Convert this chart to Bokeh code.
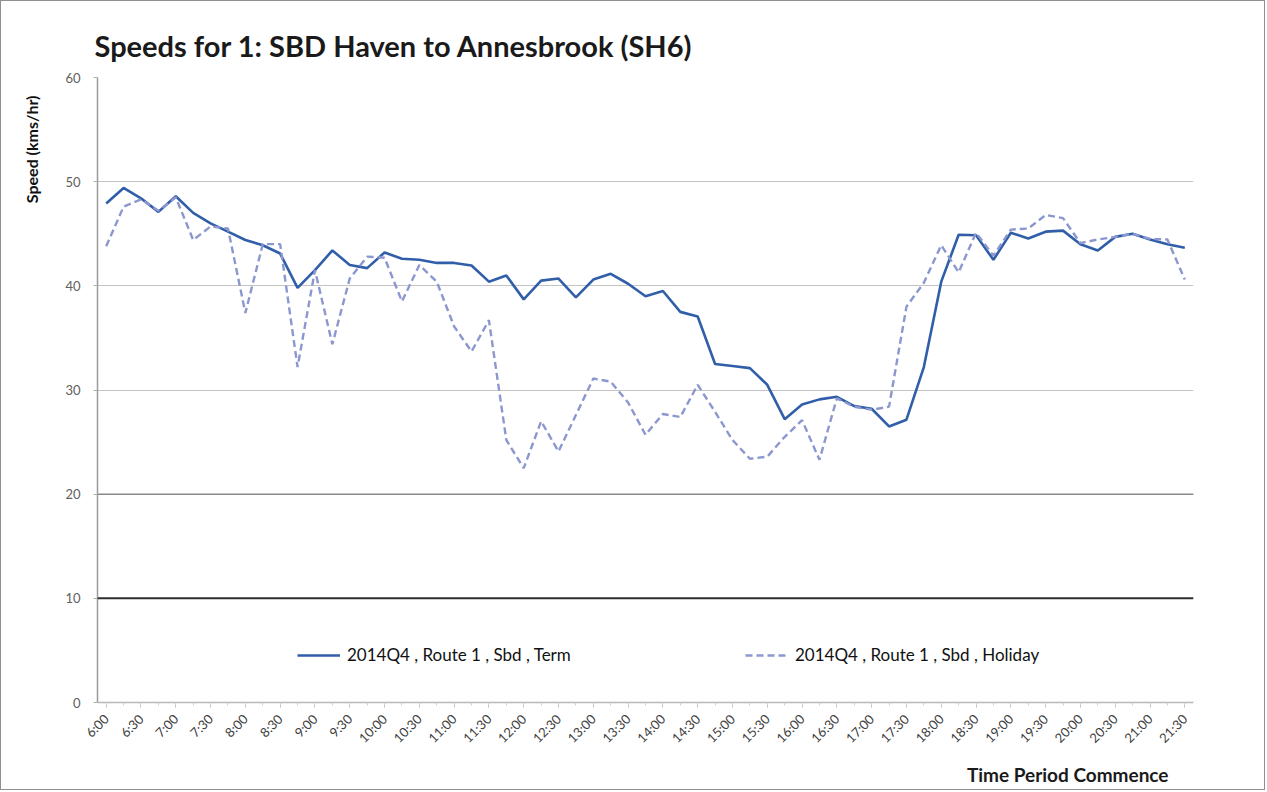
import math
from bokeh.plotting import figure
from bokeh.models import (Range1d, FixedTicker, Legend, LegendItem, Span, Title)
from bokeh.embed import file_html
from bokeh.resources import INLINE

# ---------------- data ----------------
times = ["6:00", "6:15", "6:30", "6:45", "7:00", "7:15", "7:30", "7:45",
         "8:00", "8:15", "8:30", "8:45", "9:00", "9:15", "9:30", "9:45",
         "10:00", "10:15", "10:30", "10:45", "11:00", "11:15", "11:30", "11:45",
         "12:00", "12:15", "12:30", "12:45", "13:00", "13:15", "13:30", "13:45",
         "14:00", "14:15", "14:30", "14:45", "15:00", "15:15", "15:30", "15:45",
         "16:00", "16:15", "16:30", "16:45", "17:00", "17:15", "17:30", "17:45",
         "18:00", "18:15", "18:30", "18:45", "19:00", "19:15", "19:30", "19:45",
         "20:00", "20:15", "20:30", "20:45", "21:00", "21:15", "21:30"]

term = [47.9, 49.4, 48.4, 47.1, 48.6, 47.0, 46.0, 45.2,
        44.4, 43.9, 43.1, 39.8, 41.5, 43.4, 42.0, 41.7,
        43.2, 42.6, 42.5, 42.2, 42.2, 41.95, 40.4, 41.0,
        38.7, 40.5, 40.7, 38.9, 40.6, 41.15, 40.2, 39.0,
        39.5, 37.5, 37.05, 32.5, 32.3, 32.1, 30.5, 27.2,
        28.6, 29.1, 29.35, 28.45, 28.2, 26.5, 27.15, 32.2,
        40.4, 44.9, 44.85, 42.5, 45.1, 44.55, 45.2, 45.3,
        44.0, 43.4, 44.7, 45.0, 44.45, 44.0, 43.65]

holiday = [43.8, 47.6, 48.3, 47.2, 48.5, 44.4, 45.7, 45.5,
           37.4, 44.0, 44.0, 32.2, 41.5, 34.4, 40.7, 42.8,
           42.7, 38.5, 42.0, 40.4, 36.1, 33.7, 36.7, 25.2,
           22.5, 27.0, 24.1, 27.6, 31.1, 30.8, 28.8, 25.7,
           27.7, 27.4, 30.5, 27.9, 25.2, 23.4, 23.6, 25.5,
           27.1, 23.3, 29.2, 28.4, 28.1, 28.4, 38.0, 40.3,
           43.9, 41.3, 45.1, 42.9, 45.4, 45.5, 46.8, 46.5,
           44.1, 44.45, 44.7, 45.0, 44.5, 44.45, 40.6]

y_ticks = [0, 10, 20, 30, 40, 50, 60]
series_names = ["2014Q4 , Route 1 , Sbd , Term",
                "2014Q4 , Route 1 , Sbd , Holiday"]
title_text = "Speeds for 1: SBD Haven to Annesbrook (SH6)"
y_label = "Speed (kms/hr)"
x_label = "Time Period Commence"

FONT = "Lato"
W, H = 1265, 790

# category positions (one slot per time period)
xpos = list(range(len(times)))

# ---------------- figure ----------------
p = figure(width=W, height=H,
           x_range=Range1d(-0.5, len(times) - 0.5),
           y_range=Range1d(y_ticks[0], y_ticks[-1]),
           output_backend="svg", toolbar_location=None,
           min_border_left=96, min_border_right=73,
           min_border_top=76, min_border_bottom=88)

p.styles = {"border": "1px solid #8f8f8f"}
p.outline_line_color = None
p.background_fill_color = "white"
p.border_fill_color = "white"

# main title
p.title.text = title_text
p.title.text_font = FONT
p.title.text_font_size = "29px"
p.title.text_font_style = "bold"
p.title.text_color = "#1a1a1a"
p.title.align = "left"
p.title.offset = -3
p.title.standoff = 30

# grid
p.xgrid.visible = False
p.ygrid.grid_line_color = "#c4c4c4"
p.ygrid.grid_line_width = 1

# y axis
p.yaxis.ticker = FixedTicker(ticks=y_ticks)
p.yaxis.major_label_text_font = FONT
p.yaxis.major_label_text_font_size = "13px"
p.yaxis.major_label_text_color = "#606060"
p.yaxis.major_label_standoff = 13
p.yaxis.axis_line_color = "#9a9a9a"
p.yaxis.axis_line_width = 1.5
p.yaxis.major_tick_line_color = "#b0b0b0"
p.yaxis.major_tick_in = 0
p.yaxis.major_tick_out = 4
p.yaxis.minor_tick_line_color = None

# x axis: label every half hour
p.xaxis.ticker = FixedTicker(ticks=xpos[::2], minor_ticks=xpos)
p.xaxis.major_label_overrides = {i: times[i] for i in xpos[::2]}
p.xaxis.major_label_orientation = math.pi / 4
p.xaxis.major_label_text_font = FONT
p.xaxis.major_label_text_font_size = "13px"
p.xaxis.major_label_text_color = "#404040"
p.xaxis.major_label_standoff = 9
p.xaxis.axis_line_color = "#b8b8b8"
p.xaxis.axis_line_width = 1.5
p.xaxis.major_tick_line_color = "#c0c0c0"
p.xaxis.major_tick_in = 0
p.xaxis.major_tick_out = 5
p.xaxis.minor_tick_line_color = "#d0d0d0"
p.xaxis.minor_tick_in = 0
p.xaxis.minor_tick_out = 3

# axis titles, placed like the reference (y at top-left, x at bottom-right)
p.add_layout(Title(text=y_label, align="right", vertical_align="top",
                   offset=18, standoff=40,
                   text_font=FONT, text_font_size="16px", text_font_style="bold",
                   text_color="#111111"), "left")
p.add_layout(Title(text=x_label, align="right", offset=25, standoff=12,
                   text_font=FONT, text_font_size="19px", text_font_style="bold",
                   text_color="#1a1a1a"), "below")

# darker scanned gridlines
p.add_layout(Span(location=y_ticks[2], dimension="width", line_color="#8a8a8a", line_width=1.5))
p.add_layout(Span(location=y_ticks[1], dimension="width", line_color="#2e2e2e", line_width=2))

# series
r_term = p.line(xpos, term, line_color="#305ea9", line_width=2.6)
r_hol = p.line(xpos, holiday, line_color="#8c97cf", line_width=2.4, line_dash="7 4")

def make_legend(label, rend, loc):
    lg = Legend(items=[LegendItem(label=label, renderers=[rend])], location=loc,
                orientation="horizontal")
    lg.border_line_color = None
    lg.background_fill_alpha = 0
    lg.padding = 0
    lg.margin = 0
    lg.glyph_width = 43
    lg.glyph_height = 20
    lg.label_standoff = 7
    lg.label_text_font = FONT
    lg.label_text_font_size = "17px"
    lg.label_text_color = "#111111"
    return lg

p.add_layout(make_legend(series_names[0], r_term, (200, 37)))
p.add_layout(make_legend(series_names[1], r_hol, (648, 37)))

open("out.html", "w").write(file_html(p, INLINE))
